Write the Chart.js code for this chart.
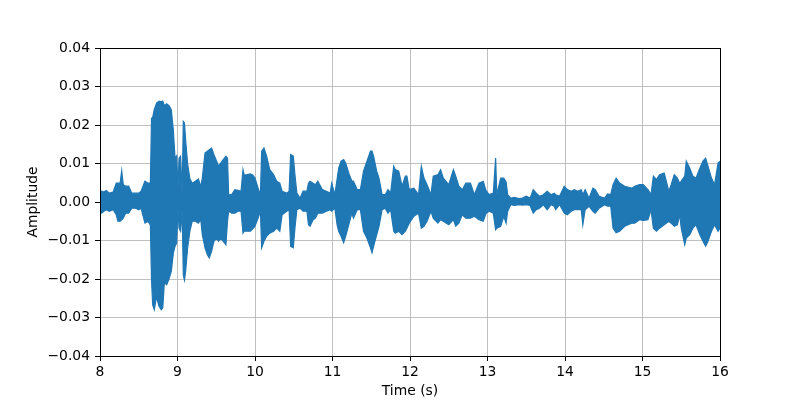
<!DOCTYPE html>
<html>
<head>
<meta charset="utf-8">
<script src="https://cdn.jsdelivr.net/npm/chart.js@4/dist/chart.umd.min.js"></script>
<style>
  html, body { margin: 0; padding: 0; background: #ffffff; }
  #wrap { width: 800px; height: 400px; }
</style>
</head>
<body>
<div id="wrap"><canvas id="c" width="800" height="400"></canvas></div>
<script>
// Envelope of the waveform: time (s), upper and lower amplitude
const times = [
  8.00, 8.02, 8.05, 8.08, 8.12, 8.17, 8.21, 8.23, 8.26, 8.28,
  8.30, 8.33, 8.37, 8.41, 8.46, 8.50, 8.53, 8.58, 8.62, 8.65,
  8.665, 8.68, 8.70, 8.73, 8.76, 8.79, 8.81, 8.83, 8.86, 8.89,
  8.92, 8.946, 8.968, 8.99, 9.005, 9.02, 9.04, 9.06, 9.075, 9.09,
  9.105, 9.13, 9.16, 9.19, 9.23, 9.27, 9.30, 9.32, 9.355,
  9.385, 9.41, 9.44, 9.47, 9.505, 9.53, 9.557, 9.59, 9.625, 9.645,
  9.66, 9.70, 9.74, 9.78, 9.82, 9.845, 9.86, 9.90, 9.94, 9.97,
  10.00, 10.04, 10.07, 10.086, 10.116, 10.15, 10.19, 10.24, 10.28, 10.32,
  10.35, 10.41, 10.44, 10.46, 10.494, 10.515, 10.54, 10.58, 10.62, 10.67,
  10.69, 10.71, 10.75, 10.78, 10.81, 10.87, 10.92, 10.97, 10.99, 11.03,
  11.06, 11.08, 11.11, 11.144, 11.17, 11.21, 11.25, 11.27, 11.32, 11.36,
  11.40, 11.445, 11.49, 11.51, 11.53, 11.57, 11.60, 11.64, 11.68, 11.716,
  11.75, 11.79, 11.81, 11.855, 11.897, 11.94, 11.96, 11.99, 12.05, 12.11,
  12.146, 12.18, 12.22, 12.27, 12.30, 12.36, 12.395, 12.43, 12.50, 12.56,
  12.59, 12.63, 12.675, 12.72, 12.78, 12.83, 12.89, 12.945, 12.98, 13.02,
  13.075, 13.105, 13.12, 13.17, 13.21, 13.24, 13.26, 13.30, 13.35, 13.40,
  13.45, 13.50, 13.55, 13.59, 13.63, 13.67, 13.72, 13.77, 13.82, 13.86,
  13.88, 13.93, 13.99, 14.03, 14.08, 14.12, 14.16, 14.21, 14.23, 14.26,
  14.31, 14.36, 14.39, 14.44, 14.51, 14.55, 14.59, 14.62, 14.66, 14.705,
  14.77, 14.86, 14.90, 14.96, 15.01, 15.07, 15.11, 15.14, 15.18, 15.22,
  15.28, 15.34, 15.37, 15.41, 15.45, 15.48, 15.50, 15.545, 15.565, 15.61,
  15.65, 15.69, 15.74, 15.78, 15.815, 15.845, 15.89, 15.93, 15.975, 16.00
];
const upper = [
  0.0028, 0.0028, 0.0026, 0.0030, 0.0023, 0.0026, 0.0049, 0.0049, 0.0050, 0.0081,
  0.0045, 0.0041, 0.0041, 0.0023, 0.0023, 0.0023, 0.0028, 0.0054, 0.0049, 0.0050,
  0.0217, 0.0220, 0.0240, 0.0257, 0.0262, 0.0260, 0.0262, 0.0250, 0.0255, 0.0250,
  0.0240, 0.0187, 0.0114, 0.0120, 0.0030, 0.0114, 0.0119, 0.0019, 0.0209, 0.0205,
  0.0160, 0.0100, 0.0060, 0.0049, 0.0054, 0.0060, 0.0040, 0.0062, 0.0127,
  0.0132, 0.0136, 0.0140, 0.0123, 0.0106, 0.0093, 0.0101, 0.0110, 0.0119, 0.0114,
  0.0020, 0.0019, 0.0032, 0.0030, 0.0028, 0.0084, 0.0070, 0.0071, 0.0073, 0.0070,
  0.0062, 0.0036, 0.0019, 0.0132, 0.0140, 0.0119, 0.0084, 0.0071, 0.0054, 0.0049,
  0.0028, 0.0023, 0.0028, 0.0123, 0.0119, 0.0071, 0.0023, 0.0010, 0.0028, 0.0028,
  0.0049, 0.0054, 0.0049, 0.0045, 0.0054, 0.0032, 0.0028, 0.0023, 0.0049, 0.0019,
  0.0060, 0.0088, 0.0106, 0.0110, 0.0101, 0.0075, 0.0054, 0.0054, 0.0032, 0.0032,
  0.0080, 0.0106, 0.0132, 0.0132, 0.0119, 0.0080, 0.0062, 0.0019, 0.0019, 0.0032,
  0.0023, 0.0093, 0.0084, 0.0080, 0.0041, 0.0067, 0.0067, 0.0032, 0.0036, 0.0019,
  0.0093, 0.0062, 0.0045, 0.0019, 0.0067, 0.0071, 0.0084, 0.0062, 0.0045, 0.0084,
  0.0067, 0.0041, 0.0032, 0.0049, 0.0049, 0.0019, 0.0049, 0.0054, 0.0030, 0.0019,
  0.0023, 0.0114, 0.0019, 0.0062, 0.0062, 0.0052, 0.0019, 0.0010, 0.0012, 0.0009,
  0.0010, 0.0015, 0.0010, 0.0032, 0.0023, 0.0015, 0.0019, 0.0028, 0.0019, 0.0023,
  0.0019, 0.0015, 0.0041, 0.0032, 0.0028, 0.0032, 0.0028, 0.0032, 0.0019, 0.0032,
  0.0010, 0.0036, 0.0032, 0.0015, 0.0010, 0.0021, 0.0019, 0.0045, 0.0062, 0.0049,
  0.0041, 0.0036, 0.0041, 0.0045, 0.0045, 0.0032, 0.0019, 0.0067, 0.0058, 0.0071,
  0.0075, 0.0028, 0.0045, 0.0071, 0.0062, 0.0049, 0.0054, 0.0067, 0.0106, 0.0088,
  0.0067, 0.0062, 0.0088, 0.0106, 0.0114, 0.0093, 0.0062, 0.0045, 0.0101, 0.0106
];
const lower = [
  -0.0029, -0.0029, -0.0024, -0.0020, -0.0024, -0.0020, -0.0033, -0.0050, -0.0050, -0.0046,
  -0.0042, -0.0029, -0.0029, -0.0016, -0.0016, -0.0020, -0.0016, -0.0055, -0.0050, -0.0060,
  -0.0203, -0.0267, -0.0280, -0.0246, -0.0270, -0.0280, -0.0275, -0.0210, -0.0215, -0.0200,
  -0.0180, -0.0133, -0.0115, -0.0107, -0.0016, -0.0068, -0.0076, -0.0020, -0.0190, -0.0203,
  -0.0180, -0.0120, -0.0075, -0.0050, -0.0050, -0.0055, -0.0045, -0.0085, -0.0119,
  -0.0137, -0.0145, -0.0128, -0.0102, -0.0094, -0.0102, -0.0094, -0.0102, -0.0111, -0.0050,
  -0.0024, -0.0029, -0.0029, -0.0024, -0.0024, -0.0081, -0.0076, -0.0076, -0.0076, -0.0070,
  -0.0063, -0.0042, -0.0024, -0.0119, -0.0102, -0.0089, -0.0081, -0.0076, -0.0068, -0.0076,
  -0.0033, -0.0024, -0.0020, -0.0115, -0.0119, -0.0068, -0.0020, -0.0016, -0.0024, -0.0024,
  -0.0059, -0.0063, -0.0046, -0.0042, -0.0029, -0.0029, -0.0024, -0.0020, -0.0024, -0.0016,
  -0.0060, -0.0076, -0.0089, -0.0106, -0.0089, -0.0059, -0.0029, -0.0042, -0.0020, -0.0020,
  -0.0076, -0.0094, -0.0119, -0.0132, -0.0115, -0.0085, -0.0063, -0.0020, -0.0016, -0.0029,
  -0.0020, -0.0076, -0.0081, -0.0076, -0.0085, -0.0076, -0.0068, -0.0055, -0.0037, -0.0029,
  -0.0068, -0.0063, -0.0050, -0.0024, -0.0042, -0.0055, -0.0046, -0.0050, -0.0059, -0.0046,
  -0.0063, -0.0055, -0.0033, -0.0042, -0.0042, -0.0037, -0.0046, -0.0050, -0.0030, -0.0024,
  -0.0029, -0.0072, -0.0068, -0.0063, -0.0037, -0.0055, -0.0024, -0.0007, -0.0009, -0.0007,
  -0.0008, -0.0007, -0.0009, -0.0029, -0.0020, -0.0016, -0.0007, -0.0020, -0.0007, -0.0011,
  -0.0020, -0.0007, -0.0029, -0.0033, -0.0024, -0.0020, -0.0020, -0.0020, -0.0059, -0.0020,
  -0.0011, -0.0024, -0.0029, -0.0016, -0.0007, -0.0011, -0.0011, -0.0068, -0.0080, -0.0076,
  -0.0063, -0.0055, -0.0055, -0.0046, -0.0048, -0.0046, -0.0020, -0.0068, -0.0076, -0.0068,
  -0.0059, -0.0050, -0.0055, -0.0063, -0.0059, -0.0033, -0.0068, -0.0111, -0.0094, -0.0085,
  -0.0068, -0.0059, -0.0085, -0.0102, -0.0115, -0.0102, -0.0076, -0.0059, -0.0076, -0.0068
];
const xTickLabels = ['8', '9', '10', '11', '12', '13', '14', '15', '16'];
const yTickLabels = ['\u22120.04', '\u22120.03', '\u22120.02', '\u22120.01', '0.00', '0.01', '0.02', '0.03', '0.04'];
const xLabel = 'Time (s)';
const yLabel = 'Amplitude';

const lineColor = '#1f77b4';
const font = { family: 'DejaVu Sans', size: 13.9 };

const frame = {
  id: 'frame',
  afterDatasetsDraw(chart) {
    const a = chart.chartArea;
    const ctx = chart.ctx;
    ctx.save();
    ctx.strokeStyle = '#000000';
    ctx.lineWidth = 1;
    ctx.strokeRect(Math.round(a.left) + 0.5, Math.round(a.top) + 0.5,
                   Math.round(a.right - a.left), Math.round(a.bottom - a.top));
    ctx.restore();
  }
};

new Chart(document.getElementById('c'), {
  type: 'line',
  data: {
    datasets: [
      {
        label: 'lower',
        data: times.map((t, i) => ({ x: t, y: lower[i] })),
        borderColor: lineColor,
        backgroundColor: lineColor,
        borderWidth: 1.2,
        pointRadius: 0,
        tension: 0,
        fill: false
      },
      {
        label: 'upper',
        data: times.map((t, i) => ({ x: t, y: upper[i] })),
        borderColor: lineColor,
        backgroundColor: lineColor,
        borderWidth: 1.2,
        pointRadius: 0,
        tension: 0,
        fill: '-1'
      }
    ]
  },
  options: {
    responsive: false,
    animation: false,
    devicePixelRatio: 1,
    layout: { padding: { top: 48, right: 80, left: 0, bottom: 0 } },
    plugins: {
      legend: { display: false },
      tooltip: { enabled: false },
      filler: { propagate: false }
    },
    scales: {
      x: {
        type: 'linear',
        min: 8, max: 16,
        afterFit(s) { s.height = 44; },
        grid: { color: '#b0b0b0', lineWidth: 0.8, tickColor: '#000000', tickLength: 5, tickWidth: 1 },
        border: { display: false },
        ticks: {
          stepSize: 1, color: '#000000', font, padding: 3, maxRotation: 0,
          callback: (v, i) => xTickLabels[i]
        },
        title: { display: true, text: xLabel, color: '#000000', font, padding: { top: 0, bottom: 0 } }
      },
      y: {
        min: -0.04, max: 0.04,
        afterFit(s) { s.width = 100; },
        grid: { color: '#b0b0b0', lineWidth: 0.8, tickColor: '#000000', tickLength: 5, tickWidth: 1 },
        border: { display: false },
        ticks: {
          stepSize: 0.01, color: '#000000', font, padding: 5,
          callback: (v, i) => yTickLabels[i]
        },
        title: { display: true, text: yLabel, color: '#000000', font, padding: { top: 25, bottom: 0 } }
      }
    }
  },
  plugins: [frame]
});
</script>
</body>
</html>
